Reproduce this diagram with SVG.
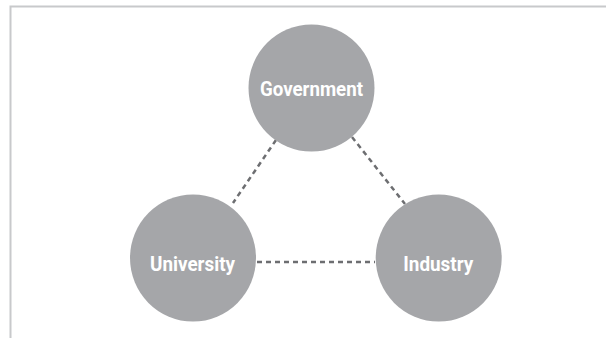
<svg xmlns="http://www.w3.org/2000/svg" width="606" height="338" viewBox="0 0 606 338">
<style>
.node{fill:#a5a6a9}
.lbl{fill:#ffffff;font-family:"Roboto","Liberation Sans",sans-serif;font-weight:bold;font-size:20.5px;text-anchor:middle}
.conn{stroke:#6d6e71;stroke-width:2.5;stroke-dasharray:5,4;fill:none}
</style>
<rect x="0" y="0" width="606" height="338" fill="#ffffff"/>
<path d="M10.5 340 V6.5 H610" fill="none" stroke="#c8c9cb" stroke-width="2"/>
<g id="connectors">
<line class="conn" x1="276" y1="140" x2="233" y2="203"/>
<line class="conn" x1="352" y1="137" x2="405" y2="204"/>
<line class="conn" x1="257" y1="262" x2="375" y2="262"/>
</g>
<g id="government">
<ellipse class="node" cx="311.5" cy="88" rx="63" ry="63.5"/>
<text class="lbl" x="311.5" y="95.5" textLength="103" lengthAdjust="spacingAndGlyphs">Government</text>
</g>
<g id="university">
<ellipse class="node" cx="193" cy="258" rx="63" ry="63.5"/>
<text class="lbl" x="192.5" y="270.5" textLength="85" lengthAdjust="spacingAndGlyphs">University</text>
</g>
<g id="industry">
<ellipse class="node" cx="438.7" cy="258" rx="63" ry="63.5"/>
<text class="lbl" x="438.3" y="270.5" textLength="70" lengthAdjust="spacingAndGlyphs">Industry</text>
</g>
</svg>
